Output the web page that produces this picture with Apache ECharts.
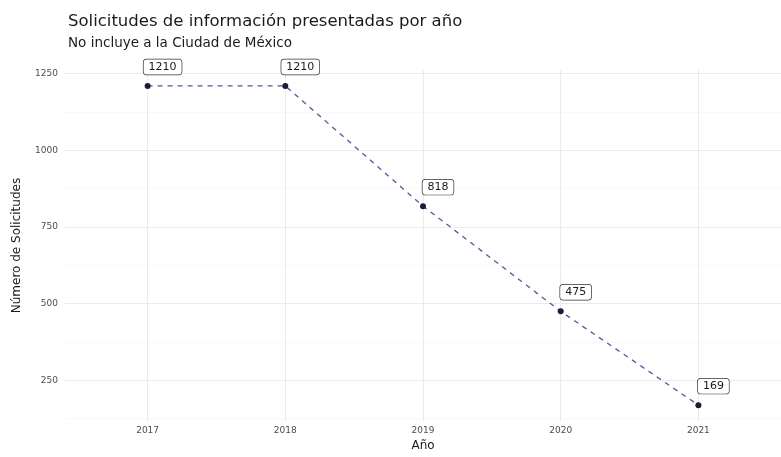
<!DOCTYPE html>
<html>
<head>
    <meta charset="utf-8">
    <title>Solicitudes por año</title>
    <script src="https://cdn.jsdelivr.net/npm/echarts@6/dist/echarts.min.js"></script>
    <style>
        html, body { margin: 0; padding: 0; background: #fff; }
        #chart { width: 781px; height: 457px; }
    </style>
</head>
<body>
<div id="chart"></div>
<script>
    // datos
    var years = [2017, 2018, 2019, 2020, 2021];
    var solicitudes = [1210, 1210, 818, 475, 169];
    var yTicks = [250, 500, 750, 1000, 1250];
    var yMinorTicks = [125, 375, 625, 875, 1125];

    var fuente = '"DejaVu Sans", Arial, sans-serif';
    var puntos = [];
    for (var i = 0; i < years.length; i++) {
        puntos.push([years[i], solicitudes[i]]);
    }

    var yMin = 116.95, yMax = 1262;
    var sinComas = function (v) { return String(v); };

    var mychart = echarts.init(document.getElementById('chart'), null, { renderer: 'canvas' });
    var option = {
        animation: false,
        backgroundColor: '#fff',
        title: {
            text: 'Solicitudes de información presentadas por año',
            subtext: 'No incluye a la Ciudad de México',
            left: 63,
            top: 8,
            itemGap: 6,
            textStyle: { fontFamily: fuente, fontSize: 16.5, fontWeight: 'normal', color: '#1a1a1a' },
            subtextStyle: { fontFamily: fuente, fontSize: 13.5, color: '#1a1a1a' }
        },
        grid: { left: 65, right: -4, top: 70, bottom: 27 },
        xAxis: {
            type: 'value',
            min: 2016.4,
            max: 2021.6,
            name: 'Año',
            nameLocation: 'middle',
            nameGap: 14,
            nameTextStyle: { fontFamily: fuente, fontSize: 12, color: '#1a1a1a' },
            axisLine: { show: false },
            axisTick: { show: false, customValues: years },
            axisLabel: {
                customValues: years,
                formatter: sinComas,
                margin: 5,
                fontFamily: fuente, fontSize: 9, color: '#4d4d4d'
            },
            splitLine: { show: true, lineStyle: { color: '#ebebeb', width: 1 } }
        },
        yAxis: [{
            type: 'value',
            min: yMin,
            max: yMax,
            name: 'Número de Solicitudes',
            nameLocation: 'middle',
            nameGap: 42,
            nameTextStyle: { fontFamily: fuente, fontSize: 12, color: '#1a1a1a' },
            axisLine: { show: false },
            axisTick: { show: false, customValues: yTicks },
            axisLabel: {
                customValues: yTicks,
                formatter: sinComas,
                margin: 7,
                fontFamily: fuente, fontSize: 9, color: '#4d4d4d'
            },
            splitLine: { show: true, lineStyle: { color: '#ebebeb', width: 1 } }
        }, {
            // lineas menores de la cuadricula
            type: 'value',
            min: yMin,
            max: yMax,
            position: 'left',
            axisLine: { show: false },
            axisTick: { show: false, customValues: yMinorTicks },
            axisLabel: { show: false, customValues: yMinorTicks },
            splitLine: { show: true, lineStyle: { color: '#f3f3f3', width: 0.6 } }
        }],
        series: [{
            type: 'line',
            data: puntos,
            yAxisIndex: 0,
            symbol: 'circle',
            symbolSize: 6,
            itemStyle: { color: '#1b1b3a' },
            lineStyle: { color: '#55559a', width: 1.3, type: [5, 5] },
            label: {
                show: true,
                position: 'inside',
                offset: [15, -19],
                formatter: function (p) { return p.value[1]; },
                fontFamily: fuente,
                fontSize: 11,
                color: '#1a1a1a',
                backgroundColor: '#fff',
                borderColor: '#333',
                borderWidth: 0.7,
                borderRadius: 3,
                padding: [2, 5, 2, 5]
            },
            z: 5
        }]
    };
    mychart.setOption(option);
</script>
</body>
</html>
